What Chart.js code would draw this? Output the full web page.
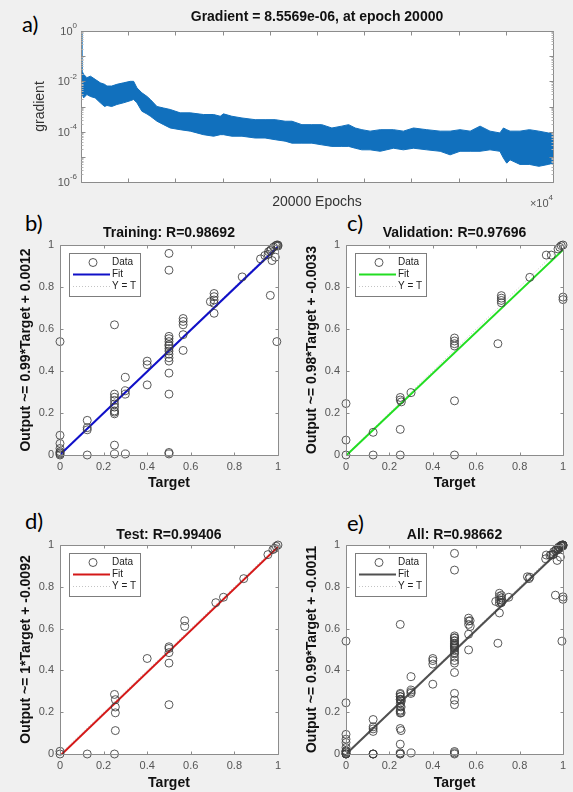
<!DOCTYPE html>
<html>
<head>
<meta charset="utf-8">
<script src="https://cdn.jsdelivr.net/npm/chart.js@4.4.0/dist/chart.umd.min.js"></script>
<style>
    html, body { margin: 0; padding: 0; background: #f0f0f0; }
    body { width: 573px; height: 792px; position: relative; overflow: hidden; }
    canvas { position: absolute; }
    .tag { position: absolute; font-family: Lato, 'Open Sans', sans-serif; font-size: 22px; line-height: 1; color: #000; }
</style>
</head>
<body>
<div class="tag" style="left:22px; top:13px">a)</div>
<div class="tag" style="left:25px; top:212px">b)</div>
<div class="tag" style="left:347px; top:212px">c)</div>
<div class="tag" style="left:25px; top:510px">d)</div>
<div class="tag" style="left:347px; top:512px">e)</div>

<canvas id="gradient" width="573" height="212" style="left:0; top:0"></canvas>
<canvas id="training" width="286" height="292" style="left:0; top:200px"></canvas>
<canvas id="validation" width="287" height="292" style="left:286px; top:200px"></canvas>
<canvas id="test" width="286" height="292" style="left:0; top:500px"></canvas>
<canvas id="all" width="287" height="292" style="left:286px; top:500px"></canvas>

<script>
// gradient during training: upper and lower edge of the noisy trace
const epochs = [0, 40, 110, 250, 400, 600, 820, 1000, 1100, 1300, 1520, 1800, 2090, 2230, 2370, 2580, 2800, 2940,
    3220, 3500, 3780, 4200, 4630, 5190, 5620, 5900, 6040, 6390, 6820, 7380, 7800, 8230, 8650, 8940, 9360, 9780,
    10200, 10630, 11050, 11340, 11620, 11900, 12250, 12680, 13240, 13660, 14090, 14650, 15220, 15640, 16060,
    16490, 16910, 17330, 17750, 17900, 18040, 18180, 18600, 19000, 19400, 19800, 20000];
const gradHigh = [1.0, 2.6e-2, 1.9e-2, 1.4e-2, 1.6e-2, 1.2e-2, 8.7e-3, 7.6e-3, 6.5e-3, 6.5e-3, 7.6e-3, 8.7e-3, 1.0e-2,
    1.0e-2, 5.5e-3, 3.5e-3, 2.5e-3, 1.9e-3, 1.0e-3, 8.7e-4, 7.6e-4, 5.6e-4, 5.6e-4, 4.8e-4, 4.8e-4, 4.1e-4, 5.1e-4,
    4.1e-4, 3.5e-4, 3.0e-4, 3.0e-4, 3.0e-4, 2.6e-4, 2.6e-4, 1.9e-4, 1.9e-4, 1.9e-4, 1.4e-4, 1.66e-4, 1.9e-4, 1.4e-4,
    1.2e-4, 1.05e-4, 1.2e-4, 1.2e-4, 1.05e-4, 1.4e-4, 1.2e-4, 1.05e-4, 1.05e-4, 1.2e-4, 1.05e-4, 1.66e-4, 1.05e-4,
    8.9e-5, 1.4e-4, 1.2e-4, 1.05e-4, 1.05e-4, 1.2e-4, 1.05e-4, 8.9e-5, 8.9e-5];
const gradLow = [4.1e-3, 4.1e-3, 2.2e-3, 3.0e-3, 2.5e-3, 2.2e-3, 1.4e-3, 1.0e-3, 1.1e-3, 1.0e-3, 1.2e-3, 1.4e-3, 1.7e-3,
    1.9e-3, 1.4e-3, 6.5e-4, 5.0e-4, 4.1e-4, 2.6e-4, 1.9e-4, 1.4e-4, 1.2e-4, 1.05e-4, 7.6e-5, 6.6e-5, 7.6e-5, 7.6e-5,
    6.6e-5, 6.6e-5, 5.6e-5, 5.6e-5, 4.8e-5, 4.2e-5, 3.5e-5, 3.5e-5, 3.5e-5, 3.0e-5, 2.6e-5, 2.6e-5, 2.6e-5, 2.2e-5,
    1.9e-5, 1.9e-5, 1.66e-5, 2.2e-5, 1.9e-5, 2.2e-5, 1.9e-5, 1.66e-5, 1.2e-5, 1.66e-5, 1.66e-5, 1.66e-5, 1.9e-5,
    1.66e-5, 8.9e-6, 5.6e-6, 7.6e-6, 5.0e-6, 5.0e-6, 4.2e-6, 5.0e-6, 5.6e-6];
const epochTicks = [0, 2000, 4000, 6000, 8000, 10000, 12000, 14000, 16000, 18000, 20000];
const gradLabelTicks = [1, 1e-2, 1e-4, 1e-6];
const gradDecades = [1, 1e-1, 1e-2, 1e-3, 1e-4, 1e-5, 1e-6];
const finalGradient = '8.5569e-06';
const finalEpoch = 20000;

// regression: targets and network outputs
const trainTarget = [0, 0, 0, 0, 0, 0, 0, 0, 0.125, 0.125, 0.125, 0.125, 0.25, 0.25, 0.25, 0.25, 0.25, 0.25, 0.25,
    0.25, 0.25, 0.25, 0.25, 0.3, 0.3, 0.3, 0.3, 0.4, 0.4, 0.4, 0.5, 0.5, 0.5, 0.5, 0.5, 0.5, 0.5, 0.5, 0.5, 0.5, 0.5,
    0.5, 0.5, 0.5, 0.5, 0.5, 0.565, 0.565, 0.565, 0.565, 0.565, 0.707, 0.707, 0.707, 0.707, 0.707, 0.69, 0.836,
    0.92, 0.94, 0.955, 0.965, 0.973, 0.988, 0.995, 1, 0.99, 0.98, 0.97, 0.965, 0.957, 1, 0.995];
const trainOutput = [0.54, 0.094, 0.055, 0.031, 0.016, 0.005, 0, 0.01, 0.165, 0.13, 0.12, 0, 0.62, 0.29, 0.275, 0.26,
    0.243, 0.228, 0.21, 0.204, 0.196, 0.047, 0.005, 0.37, 0.306, 0.29, 0.005, 0.447, 0.43, 0.334, 0.96, 0.88, 0.565,
    0.554, 0.54, 0.526, 0.52, 0.507, 0.495, 0.48, 0.463, 0.447, 0.39, 0.29, 0.012, 0.005, 0.65, 0.636, 0.62, 0.573,
    0.498, 0.769, 0.754, 0.738, 0.722, 0.675, 0.73, 0.848, 0.934, 0.95, 0.955, 0.76, 0.926, 0.942, 0.54, 1, 0.997,
    0.99, 0.98, 0.973, 0.968, 0.995, 1];
const valTarget = [0, 0, 0, 0.125, 0.125, 0.25, 0.25, 0.255, 0.25, 0.25, 0.3, 0.5, 0.5, 0.5, 0.5, 0.5, 0.5, 0.7,
    0.716, 0.716, 0.716, 0.716, 0.847, 0.923, 0.946, 0.977, 0.985, 0.992, 1, 1, 1];
const valOutput = [0.245, 0.071, 0, 0.108, 0, 0.274, 0.262, 0.253, 0.122, 0, 0.297, 0.557, 0.543, 0.53, 0.519, 0.258,
    0, 0.53, 0.759, 0.747, 0.736, 0.725, 0.846, 0.952, 0.952, 0.981, 0.989, 0.997, 1, 0.752, 0.74];
const testTarget = [0, 0, 0.125, 0.25, 0.254, 0.254, 0.254, 0.254, 0.25, 0.4, 0.5, 0.5, 0.5, 0.5, 0.5, 0.572, 0.572,
    0.715, 0.75, 0.843, 0.954, 0.977, 0.985, 0.992, 1];
const testOutput = [0.013, 0, 0, 0.285, 0.26, 0.225, 0.197, 0.112, 0, 0.457, 0.513, 0.505, 0.485, 0.435, 0.236, 0.638,
    0.61, 0.724, 0.75, 0.839, 0.954, 0.978, 0.984, 0.994, 1];

const panelNames = ['Training', 'Validation', 'Test', 'All'];
const rValues = [0.98692, 0.97696, 0.99406, 0.98662];
const fitSlopes = [0.99, 0.98, 1, 0.99];
const fitOffsets = [0.0012, -0.0033, -0.0092, -0.0011];
const unitTicks = [0, 0.2, 0.4, 0.6, 0.8, 1];

const FONT = "'Liberation Sans', Arial, sans-serif";
const TICK_COLOR = '#555';

// white plot area, box around it and inward tick marks on all four sides
const framePlugin = {
    id: 'frame',
    beforeDraw(chart) {
        const a = chart.chartArea;
        const ctx = chart.ctx;
        ctx.save();
        ctx.fillStyle = '#fff';
        ctx.fillRect(a.left, a.top, a.right - a.left, a.bottom - a.top);
        ctx.restore();
    },
    afterDraw(chart, args, opts) {
        const {ctx, chartArea: a, scales: {x, y}} = chart;
        const L = Math.round(a.left) + 0.5, R = Math.round(a.right) + 0.5;
        const T = Math.round(a.top) + 0.5, B = Math.round(a.bottom) + 0.5;
        ctx.save();
        ctx.strokeStyle = opts.color;
        ctx.lineWidth = 1;
        ctx.beginPath();
        ctx.rect(L, T, R - L, B - T);
        (opts.xTicks || []).forEach((v) => {
            const px = Math.round(x.getPixelForValue(v)) + 0.5;
            ctx.moveTo(px, B); ctx.lineTo(px, B - opts.len);
            ctx.moveTo(px, T); ctx.lineTo(px, T + opts.len);
        });
        (opts.yTicks || []).forEach((v) => {
            const py = Math.round(y.getPixelForValue(v)) + 0.5;
            ctx.moveTo(L, py); ctx.lineTo(L + opts.len, py);
            ctx.moveTo(R, py); ctx.lineTo(R - opts.len, py);
        });
        ctx.stroke();
        if (opts.logMinor) {
            ctx.beginPath();
            ctx.strokeStyle = '#b5b5b5';
            gradDecades.slice(1).forEach((d) => {
                for (let m = 2; m <= 9; m++) {
                    const py = Math.round(y.getPixelForValue(m * d)) + 0.5;
                    ctx.moveTo(L, py); ctx.lineTo(L + 2, py);
                    ctx.moveTo(R, py); ctx.lineTo(R - 2, py);
                }
            });
            ctx.stroke();
        }
        ctx.restore();
    }
};

// "10^k" labels on the log axis and the x10^4 multiplier
const powerLabels = {
    id: 'powerLabels',
    afterDraw(chart) {
        const {ctx, chartArea: a, scales: {y}} = chart;
        const drawPower = (base, exp, right, py) => {
            ctx.font = `8px ${FONT}`;
            const ew = ctx.measureText(exp).width;
            ctx.textAlign = 'left';
            ctx.fillText(exp, right - ew, py - 5);
            ctx.font = `11px ${FONT}`;
            ctx.textAlign = 'right';
            ctx.fillText(base, right - ew, py + 1);
        };
        ctx.save();
        ctx.fillStyle = TICK_COLOR;
        ctx.textBaseline = 'middle';
        gradLabelTicks.forEach((v) => {
            drawPower('10', String(Math.round(Math.log10(v))), a.left - 4, y.getPixelForValue(v));
        });
        const mag = String(Math.round(Math.log10(epochTicks[1] * 5)));
        drawPower('\u00d710', mag, a.right, a.bottom + 21);
        ctx.restore();
    }
};

// legend box in the upper left corner of a regression plot
const boxLegend = {
    id: 'boxLegend',
    afterDraw(chart) {
        const {ctx, chartArea: a} = chart;
        const x0 = Math.round(a.left) + 9, y0 = Math.round(a.top) + 8;
        ctx.save();
        ctx.fillStyle = '#fff';
        ctx.fillRect(x0, y0, 71, 43);
        ctx.strokeStyle = '#7d7d7d';
        ctx.lineWidth = 1;
        ctx.strokeRect(x0 + 0.5, y0 + 0.5, 71, 43);
        ctx.font = `10px ${FONT}`;
        ctx.textBaseline = 'middle';
        ctx.textAlign = 'left';
        chart.data.datasets.forEach((ds, i) => {
            const cy = y0 + 9.5 + i * 12;
            if (ds.type === 'line') {
                ctx.beginPath();
                ctx.strokeStyle = ds.borderColor;
                ctx.lineWidth = ds.borderWidth;
                ctx.setLineDash(ds.borderDash || []);
                ctx.moveTo(x0 + 4, cy);
                ctx.lineTo(x0 + 41, cy);
                ctx.stroke();
                ctx.setLineDash([]);
            } else {
                ctx.beginPath();
                ctx.strokeStyle = ds.pointBorderColor;
                ctx.lineWidth = 1;
                ctx.arc(x0 + 24, cy, ds.pointRadius, 0, Math.PI * 2);
                ctx.stroke();
            }
            ctx.fillStyle = '#222';
            ctx.fillText(ds.label, x0 + 43, cy);
        });
        ctx.restore();
    }
};

function gradientChart() {
    const toPoints = (vals) => epochs.map((e, i) => ({x: e, y: vals[i]}));
    new Chart(document.getElementById('gradient'), {
        type: 'line',
        data: {
            datasets: [
                {
                    label: 'gradient',
                    data: toPoints(gradHigh),
                    borderColor: '#1170bd',
                    borderWidth: 1,
                    pointRadius: 0,
                    fill: false
                },
                {
                    label: 'gradient (low)',
                    data: toPoints(gradLow),
                    borderColor: '#1170bd',
                    backgroundColor: '#1170bd',
                    borderWidth: 1,
                    pointRadius: 0,
                    fill: '-1'
                }
            ]
        },
        options: {
            responsive: false,
            animation: false,
            events: [],
            layout: {padding: {left: 0, right: 20, top: 0, bottom: 0}},
            plugins: {
                legend: {display: false},
                tooltip: {enabled: false},
                title: {
                    display: true,
                    fullSize: false,
                    text: `Gradient = ${finalGradient}, at epoch ${finalEpoch}`,
                    color: '#111',
                    font: {family: FONT, size: 14, weight: 'bold', lineHeight: 1},
                    padding: {top: 10, bottom: 7}
                },
                frame: {color: '#8c8c8c', len: 4, xTicks: epochTicks, yTicks: gradDecades, logMinor: true}
            },
            scales: {
                x: {
                    type: 'linear',
                    min: epochTicks[0],
                    max: epochTicks[epochTicks.length - 1],
                    afterFit: (scale) => { scale.height = 30; },
                    ticks: {display: false},
                    grid: {display: false, drawTicks: false},
                    border: {display: false},
                    title: {
                        display: true,
                        text: `${finalEpoch} Epochs`,
                        color: '#333',
                        font: {family: FONT, size: 14, lineHeight: 1},
                        padding: {top: 0, bottom: 3}
                    }
                },
                y: {
                    type: 'logarithmic',
                    min: 1e-6,
                    max: 1,
                    afterFit: (scale) => { scale.width = 81; },
                    ticks: {display: false},
                    grid: {display: false, drawTicks: false},
                    border: {display: false},
                    title: {
                        display: true,
                        text: 'gradient',
                        color: '#333',
                        font: {family: FONT, size: 14, lineHeight: 1},
                        padding: {top: 33, bottom: 0}
                    }
                }
            }
        },
        plugins: [framePlugin, powerLabels]
    });
}

function regressionChart(canvasId, k, target, output, fitColor, box) {
    const slope = fitSlopes[k];
    const offset = fitOffsets[k];
    const tLo = Math.min(...target);
    const tHi = Math.max(...target);
    const tickFont = {family: FONT, size: 11};
    const labelFont = {family: FONT, size: 14, weight: 'bold', lineHeight: 1};

    new Chart(document.getElementById(canvasId), {
        type: 'scatter',
        data: {
            datasets: [
                {
                    label: 'Data',
                    data: target.map((t, i) => ({x: t, y: output[i]})),
                    pointRadius: 4,
                    pointHoverRadius: 4,
                    pointBackgroundColor: 'rgba(0,0,0,0)',
                    pointBorderColor: 'rgba(60,60,60,0.85)',
                    pointBorderWidth: 1,
                    clip: false,
                    order: 0
                },
                {
                    type: 'line',
                    label: 'Fit',
                    data: [{x: tLo, y: slope * tLo + offset}, {x: tHi, y: slope * tHi + offset}],
                    borderColor: fitColor,
                    borderWidth: 2,
                    pointRadius: 0,
                    order: 1
                },
                {
                    type: 'line',
                    label: 'Y = T',
                    data: [{x: tLo, y: tLo}, {x: tHi, y: tHi}],
                    borderColor: '#c4c4c4',
                    borderWidth: 1,
                    borderDash: [1, 2],
                    pointRadius: 0,
                    order: 2
                }
            ]
        },
        options: {
            responsive: false,
            animation: false,
            events: [],
            layout: {padding: {left: 0, right: box.right, top: 0, bottom: 0}},
            plugins: {
                legend: {display: false},
                tooltip: {enabled: false},
                title: {
                    display: true,
                    fullSize: false,
                    text: `${panelNames[k]}: R=${rValues[k]}`,
                    color: '#111',
                    font: labelFont,
                    padding: {top: box.titleTop, bottom: box.titleBottom}
                },
                frame: {color: '#8c8c8c', len: 3, xTicks: unitTicks, yTicks: unitTicks}
            },
            scales: {
                x: {
                    type: 'linear',
                    min: unitTicks[0],
                    max: unitTicks[unitTicks.length - 1],
                    afterFit: (scale) => { scale.height = box.xHeight; },
                    afterBuildTicks: (scale) => { scale.ticks = unitTicks.map((v) => ({value: v})); },
                    ticks: {color: TICK_COLOR, font: tickFont, padding: 5, maxRotation: 0, callback: (v) => String(v)},
                    grid: {display: false, drawTicks: false},
                    border: {display: false},
                    title: {display: true, text: 'Target', color: '#111', font: labelFont, padding: {top: 0, bottom: 1.5}}
                },
                y: {
                    type: 'linear',
                    min: unitTicks[0],
                    max: unitTicks[unitTicks.length - 1],
                    afterFit: (scale) => { scale.width = 60; },
                    afterBuildTicks: (scale) => { scale.ticks = unitTicks.map((v) => ({value: v})); },
                    ticks: {color: TICK_COLOR, font: tickFont, padding: 6, callback: (v) => String(v)},
                    grid: {display: false, drawTicks: false},
                    border: {display: false},
                    title: {
                        display: true,
                        text: `Output ~= ${slope}*Target + ${offset}`,
                        color: '#111',
                        font: labelFont,
                        padding: {top: 19, bottom: 0}
                    }
                }
            }
        },
        plugins: [framePlugin, boxLegend]
    });
}

document.addEventListener('DOMContentLoaded', () => {
    gradientChart();

    const upper = {right: 6, titleTop: 26.5, titleBottom: 4.5, xHeight: 37};
    const lower = {right: 6, titleTop: 28, titleBottom: 3, xHeight: 38};

    regressionChart('training', 0, trainTarget, trainOutput, '#1010c8', upper);
    regressionChart('validation', 1, valTarget, valOutput, '#22dd22', {...upper, right: 10});
    regressionChart('test', 2, testTarget, testOutput, '#d41818', lower);
    regressionChart('all', 3,
        [...trainTarget, ...valTarget, ...testTarget],
        [...trainOutput, ...valOutput, ...testOutput],
        '#505050', {...lower, right: 10});
});
</script>
</body>
</html>
